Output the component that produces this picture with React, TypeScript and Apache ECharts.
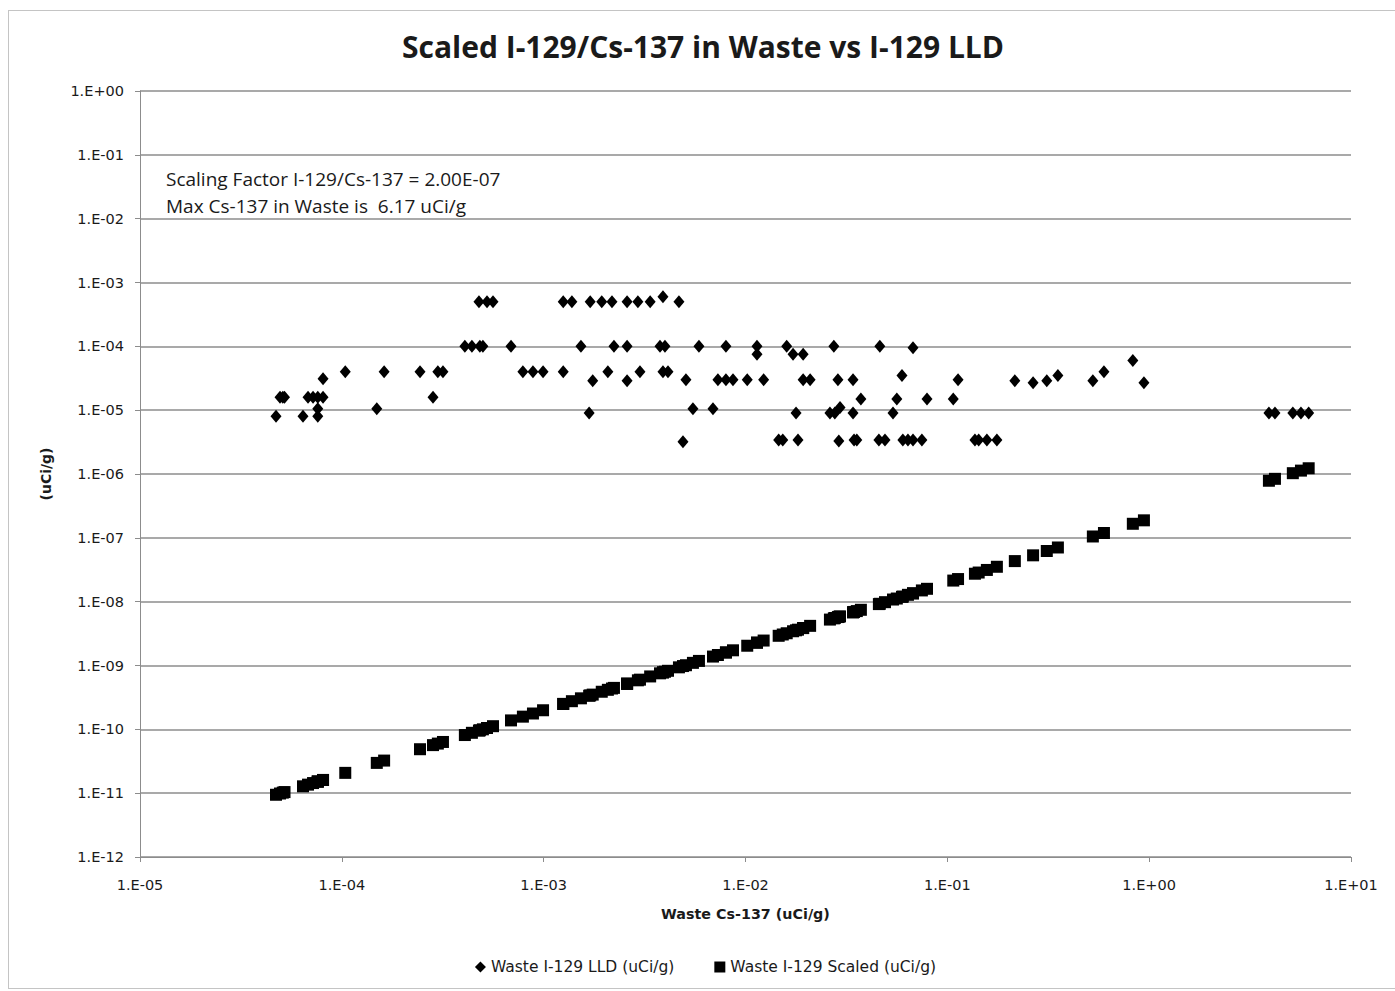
import React, { useEffect, useRef } from "react";
import * as echarts from "echarts";

// Waste Cs-137 (uCi/g) — x values
const cs137: number[] = [
  4.72e-5, 4.94e-5, 5.1e-5, 5.2e-5, 6.42e-5, 6.8e-5, 7.2e-5, 7.6e-5, 7.6e-5, 7.6e-5,
  8.07e-5, 8.07e-5, 1.04e-4, 1.49e-4, 1.62e-4, 2.44e-4, 2.83e-4, 2.99e-4, 3.17e-4, 4.07e-4,
  4.41e-4, 4.78e-4, 4.83e-4, 5.0e-4, 5.24e-4, 5.61e-4, 6.89e-4, 7.89e-4, 8.85e-4, 9.93e-4,
  1.25e-3, 1.25e-3, 1.38e-3, 1.53e-3, 1.68e-3, 1.7e-3, 1.75e-3, 1.94e-3, 2.08e-3, 2.18e-3,
  2.23e-3, 2.59e-3, 2.59e-3, 2.59e-3, 2.93e-3, 3.0e-3, 3.37e-3, 3.77e-3, 3.9e-3, 3.9e-3,
  3.99e-3, 4.13e-3, 4.68e-3, 4.9e-3, 5.07e-3, 5.49e-3, 5.88e-3, 6.9e-3, 7.3e-3, 8.0e-3,
  8.0e-3, 8.67e-3, 1.02e-2, 1.14e-2, 1.14e-2, 1.23e-2, 1.46e-2, 1.53e-2, 1.6e-2, 1.72e-2,
  1.78e-2, 1.82e-2, 1.93e-2, 1.93e-2, 2.09e-2, 2.62e-2, 2.74e-2, 2.77e-2, 2.87e-2, 2.9e-2,
  2.94e-2, 3.41e-2, 3.41e-2, 3.45e-2, 3.56e-2, 3.73e-2, 4.58e-2, 4.63e-2, 4.91e-2, 5.38e-2,
  5.62e-2, 5.96e-2, 6.02e-2, 6.38e-2, 6.76e-2, 6.76e-2, 7.48e-2, 7.93e-2, 0.107, 0.113,
  0.137, 0.143, 0.157, 0.176, 0.216, 0.266, 0.311, 0.353, 0.526, 0.597,
  0.83, 0.942, 3.92, 4.2, 5.15, 5.65, 6.17,
];

// Waste I-129 LLD (uCi/g)
const lld: number[] = [
  8e-6, 1.6e-5, 1.6e-5, 1.6e-5, 8e-6, 1.6e-5, 1.6e-5, 1.6e-5, 1.05e-5, 8e-6,
  1.6e-5, 3.1e-5, 4e-5, 1.05e-5, 4e-5, 4e-5, 1.6e-5, 4e-5, 4e-5, 1e-4,
  1e-4, 5e-4, 1e-4, 1e-4, 5e-4, 5e-4, 1e-4, 4e-5, 4e-5, 4e-5,
  5e-4, 4e-5, 5e-4, 1e-4, 9e-6, 5e-4, 2.9e-5, 5e-4, 4e-5, 5e-4,
  1e-4, 5e-4, 1e-4, 2.9e-5, 5e-4, 4e-5, 5e-4, 1e-4, 4e-5, 6e-4,
  1e-4, 4e-5, 5e-4, 3.2e-6, 3e-5, 1.05e-5, 1e-4, 1.05e-5, 3e-5, 1e-4,
  3e-5, 3e-5, 3e-5, 1e-4, 7.5e-5, 3e-5, 3.4e-6, 3.4e-6, 1e-4, 7.5e-5,
  9e-6, 3.4e-6, 7.5e-5, 3e-5, 3e-5, 9e-6, 1e-4, 9e-6, 3e-5, 3.3e-6,
  1.1e-5, 9e-6, 3e-5, 3.4e-6, 3.4e-6, 1.5e-5, 3.4e-6, 1e-4, 3.4e-6, 9e-6,
  1.5e-5, 3.5e-5, 3.4e-6, 3.4e-6, 9.5e-5, 3.4e-6, 3.4e-6, 1.5e-5, 1.5e-5, 3e-5,
  3.4e-6, 3.4e-6, 3.4e-6, 3.4e-6, 2.9e-5, 2.7e-5, 2.9e-5, 3.5e-5, 2.9e-5, 4e-5,
  6e-5, 2.7e-5, 9e-6, 9e-6, 9e-6, 9e-6, 9e-6,
];

// Waste I-129 Scaled (uCi/g)
const scaled: number[] = [
  9.44e-12, 9.88e-12, 1.02e-11, 1.04e-11, 1.28e-11, 1.36e-11, 1.44e-11, 1.52e-11, 1.52e-11, 1.52e-11,
  1.61e-11, 1.61e-11, 2.08e-11, 2.98e-11, 3.24e-11, 4.88e-11, 5.66e-11, 5.98e-11, 6.34e-11, 8.14e-11,
  8.82e-11, 9.56e-11, 9.66e-11, 1.0e-10, 1.05e-10, 1.12e-10, 1.38e-10, 1.58e-10, 1.77e-10, 1.99e-10,
  2.5e-10, 2.5e-10, 2.76e-10, 3.06e-10, 3.36e-10, 3.4e-10, 3.5e-10, 3.88e-10, 4.16e-10, 4.36e-10,
  4.46e-10, 5.18e-10, 5.18e-10, 5.18e-10, 5.86e-10, 6.0e-10, 6.74e-10, 7.54e-10, 7.8e-10, 7.8e-10,
  7.98e-10, 8.26e-10, 9.36e-10, 9.8e-10, 1.01e-9, 1.1e-9, 1.18e-9, 1.38e-9, 1.46e-9, 1.6e-9,
  1.6e-9, 1.73e-9, 2.04e-9, 2.28e-9, 2.28e-9, 2.46e-9, 2.92e-9, 3.06e-9, 3.2e-9, 3.44e-9,
  3.56e-9, 3.64e-9, 3.86e-9, 3.86e-9, 4.18e-9, 5.24e-9, 5.48e-9, 5.54e-9, 5.74e-9, 5.8e-9,
  5.88e-9, 6.82e-9, 6.82e-9, 6.9e-9, 7.12e-9, 7.46e-9, 9.16e-9, 9.26e-9, 9.82e-9, 1.08e-8,
  1.12e-8, 1.19e-8, 1.2e-8, 1.28e-8, 1.35e-8, 1.35e-8, 1.5e-8, 1.59e-8, 2.14e-8, 2.26e-8,
  2.74e-8, 2.86e-8, 3.14e-8, 3.52e-8, 4.32e-8, 5.32e-8, 6.22e-8, 7.06e-8, 1.05e-7, 1.19e-7,
  1.66e-7, 1.88e-7, 7.84e-7, 8.4e-7, 1.03e-6, 1.13e-6, 1.23e-6,
];

const titleText = "Scaled I-129/Cs-137 in Waste vs I-129 LLD";
const noteLines = ["Scaling Factor I-129/Cs-137 = 2.00E-07", "Max Cs-137 in Waste is  6.17 uCi/g"];
const seriesNames = ["Waste I-129 LLD (uCi/g)", "Waste I-129 Scaled (uCi/g)"];
const xAxisName = "Waste Cs-137 (uCi/g)";
const yAxisName = "(uCi/g)";

const FONT = "'Open Sans', 'Noto Sans', sans-serif";
const WIDE = "'DejaVu Sans', 'Open Sans', sans-serif";
const TXT = "#1a1a1a";

function expLabel(v: number): string {
  const e = Math.round(Math.log10(v));
  const s = e < 0 ? "-" : "+";
  return "1.E" + s + String(Math.abs(e)).padStart(2, "0");
}

export default function App() {
  const ref = useRef<HTMLDivElement>(null);
  useEffect(() => {
    if (!ref.current) return;
    const chart = echarts.init(ref.current, undefined, { renderer: "svg" });
    const lldData = cs137.map((x, i) => [x, lld[i]]);
    const scaledData = cs137.map((x, i) => [x, scaled[i]]);
    chart.setOption({
      animation: false,
      backgroundColor: "#ffffff",
      textStyle: { fontFamily: FONT },
      title: {
        text: titleText,
        left: 689,
        top: 15,
        textAlign: "center",
        textStyle: { fontFamily: FONT, fontSize: 30, fontWeight: "bold", color: TXT },
      },
      grid: { left: 131, top: 80, width: 1211, height: 766, containLabel: false },
      legend: {
        bottom: 8,
        left: "center",
        itemGap: 40,
        itemWidth: 11,
        itemHeight: 11,
        textStyle: { fontFamily: WIDE, fontSize: 15.5, color: TXT },
        data: [
          { name: seriesNames[0], icon: "diamond" },
          { name: seriesNames[1], icon: "rect" },
        ],
      },
      xAxis: {
        type: "log",
        logBase: 10,
        min: 1e-5,
        max: 10,
        interval: 1,
        name: xAxisName,
        nameLocation: "middle",
        nameGap: 50,
        nameTextStyle: { fontFamily: WIDE, fontSize: 14.3, fontWeight: "bold", color: TXT },
        axisLine: { lineStyle: { color: "#8c8c8c", width: 1 } },
        axisTick: { show: true, length: 5, lineStyle: { color: "#8c8c8c" } },
        minorTick: { show: false },
        splitLine: { show: false },
        axisLabel: { formatter: expLabel, fontFamily: WIDE, fontSize: 14.5, color: TXT, margin: 20 },
      },
      yAxis: {
        type: "log",
        logBase: 10,
        min: 1e-12,
        max: 1,
        interval: 1,
        name: yAxisName,
        nameLocation: "middle",
        nameGap: 87,
        nameRotate: 90,
        nameTextStyle: { fontFamily: WIDE, fontSize: 14, fontWeight: "bold", color: TXT },
        axisLine: { show: true, lineStyle: { color: "#8c8c8c", width: 1 } },
        axisTick: { show: true, length: 5, lineStyle: { color: "#8c8c8c" } },
        splitLine: { show: true, lineStyle: { color: "#8c8c8c", width: 1.5 } },
        axisLabel: { formatter: expLabel, fontFamily: WIDE, fontSize: 14.5, color: TXT, margin: 16 },
      },
      graphic: [
        {
          type: "text",
          left: 157,
          top: 154,
          style: {
            text: noteLines.join("\n"),
            font: "19px " + FONT,
            lineHeight: 27,
            fill: TXT,
          },
        },
      ],
      series: [
        {
          name: seriesNames[0],
          type: "scatter",
          symbol: "diamond",
          symbolSize: [11, 13],
          itemStyle: { color: "#000000", opacity: 1 },
          data: lldData,
        },
        {
          name: seriesNames[1],
          type: "scatter",
          symbol: "rect",
          symbolSize: [12, 12],
          itemStyle: { color: "#000000", opacity: 1 },
          data: scaledData,
        },
      ],
    });
    return () => chart.dispose();
  }, []);
  return (
    <div style={{ position: "fixed", left: 0, top: 0, width: "100vw", height: "100vh", overflow: "hidden", background: "#fff" }}>
      <div
        style={{
          position: "absolute",
          left: 8,
          top: 10,
          width: 1395,
          height: 979,
          boxSizing: "border-box",
          border: "1px solid #c4c4c4",
          background: "#fff",
        }}
      >
        <div ref={ref} style={{ width: 1393, height: 977 }} />
      </div>
    </div>
  );
}
